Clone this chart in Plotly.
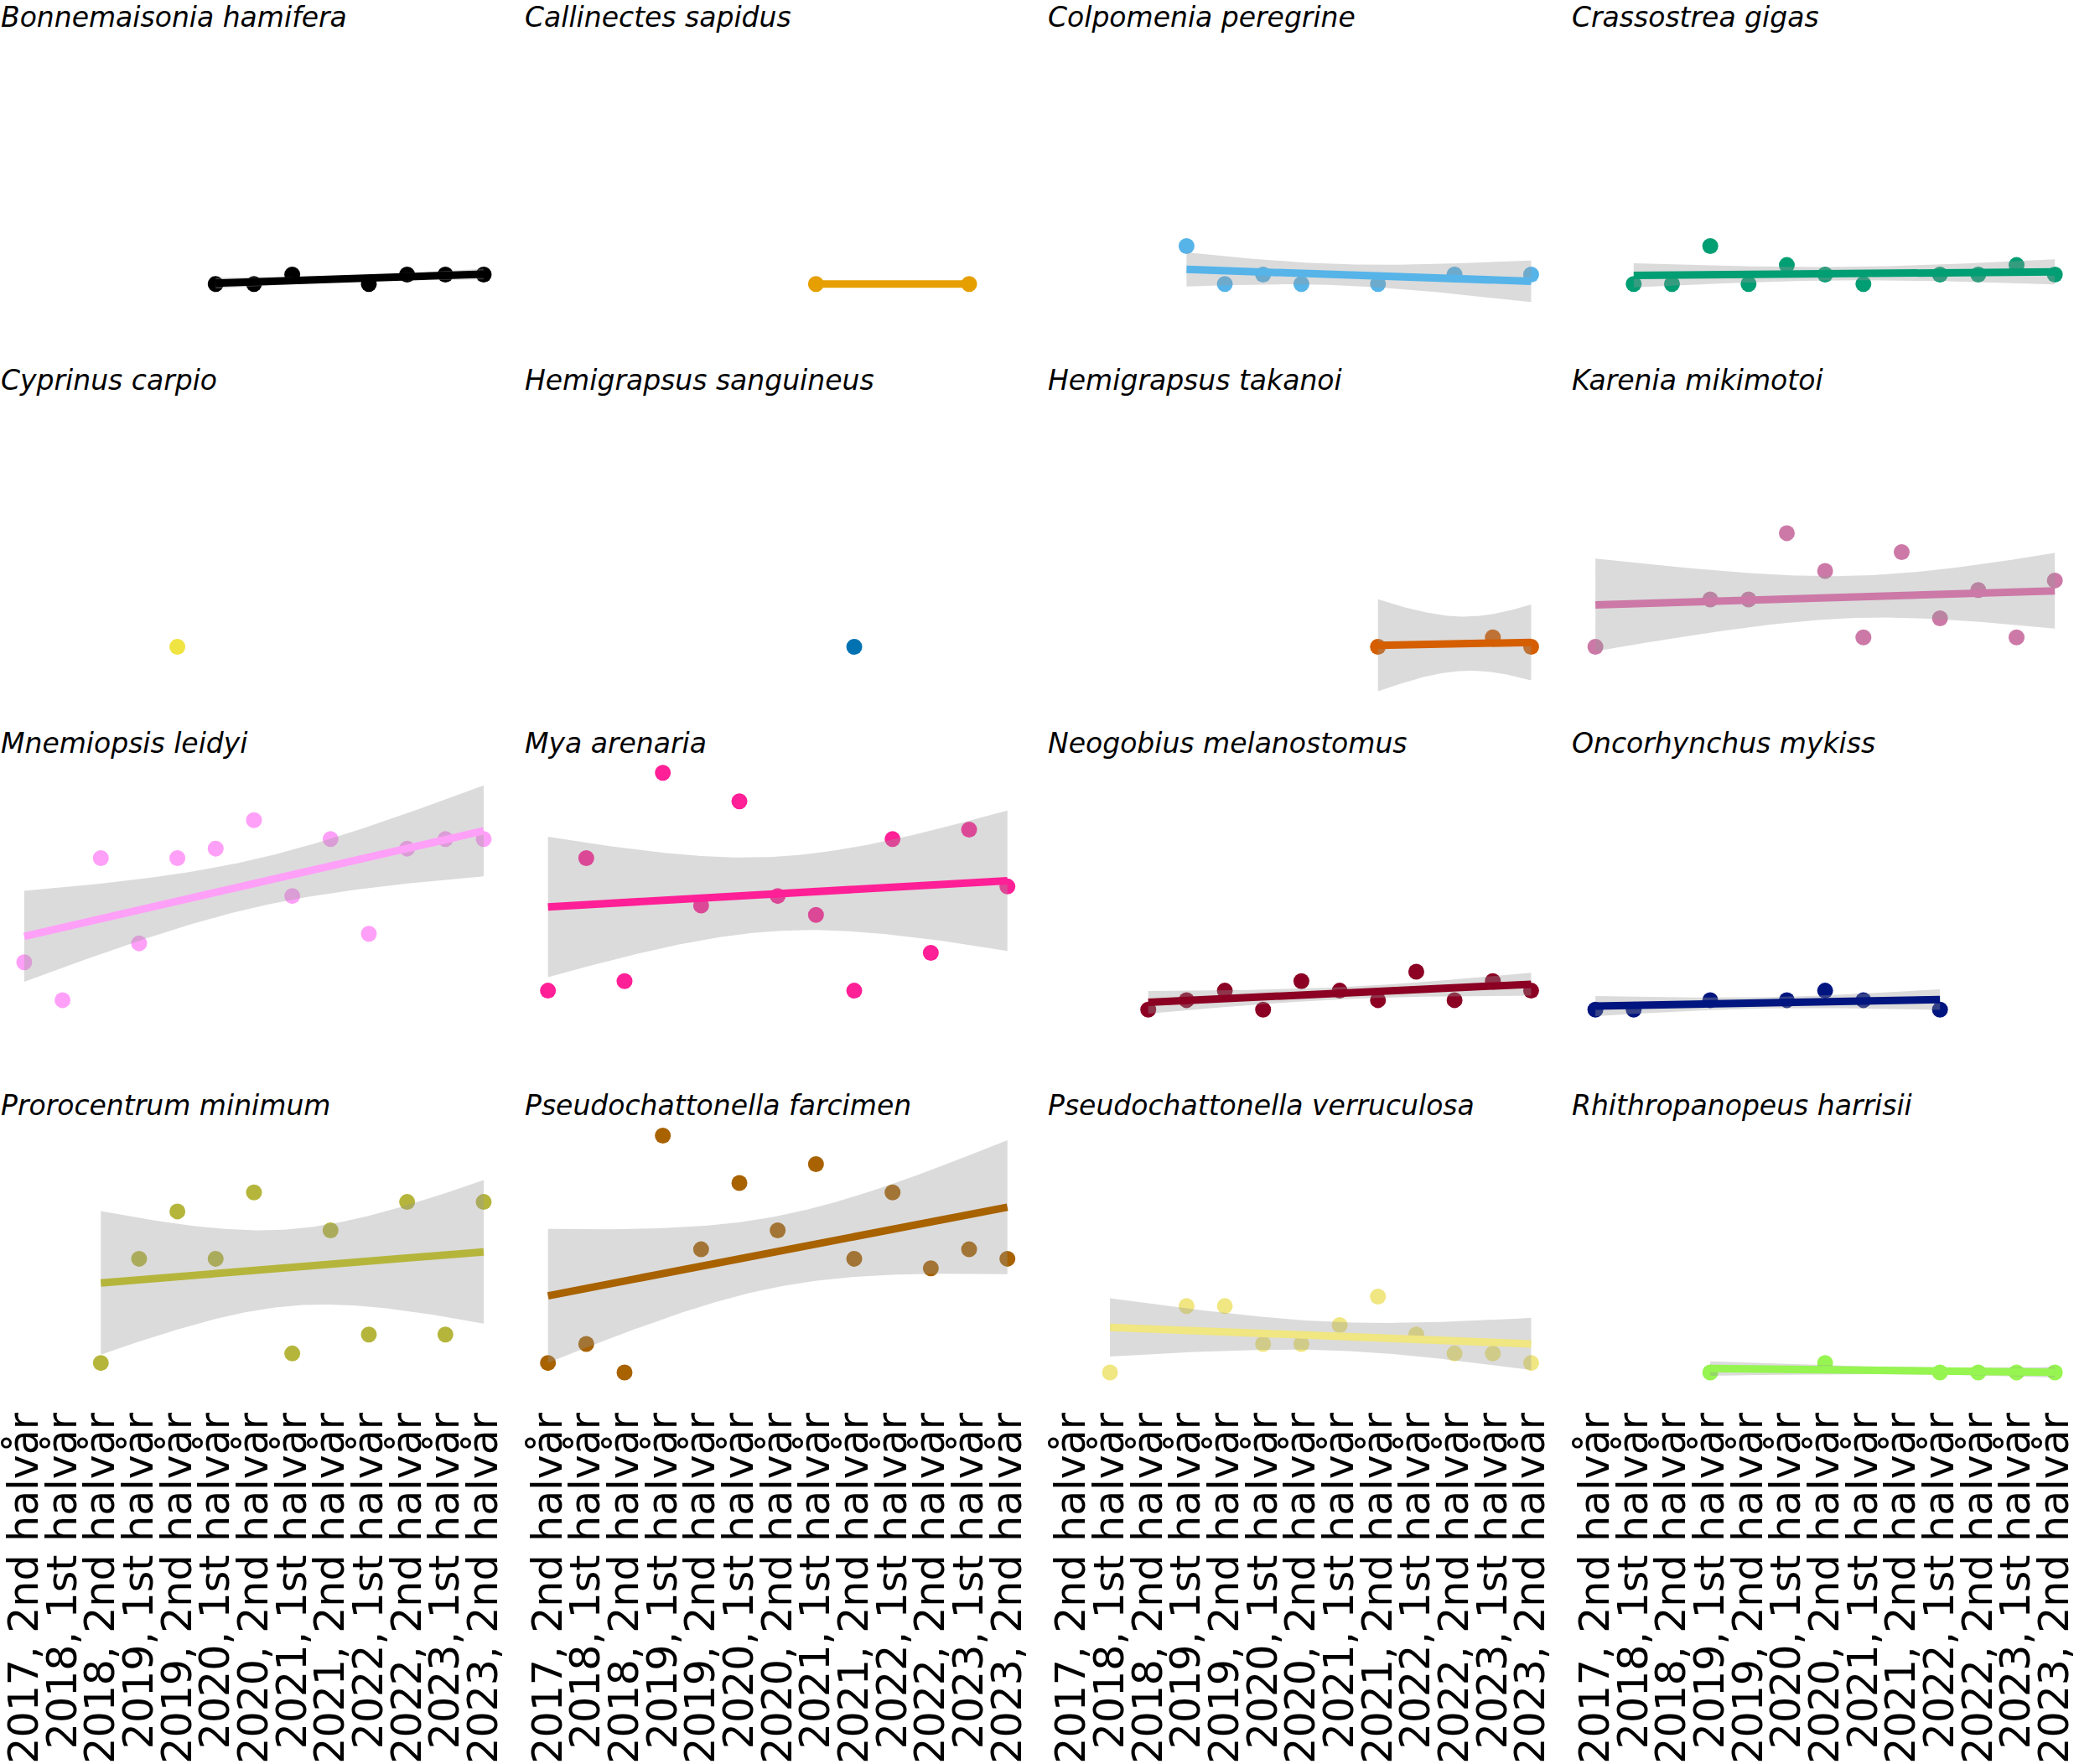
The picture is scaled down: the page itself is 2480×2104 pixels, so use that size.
import numpy as np
import plotly.graph_objects as go

# ---------------- data ----------------
categories = [
    "2017, 2nd halvår", "2018, 1st halvår", "2018, 2nd halvår", "2019, 1st halvår",
    "2019, 2nd halvår", "2020, 1st halvår", "2020, 2nd halvår", "2021, 1st halvår",
    "2021, 2nd halvår", "2022, 1st halvår", "2022, 2nd halvår", "2023, 1st halvår",
    "2023, 2nd halvår",
]

species = [
    "Bonnemaisonia hamifera", "Callinectes sapidus", "Colpomenia peregrine", "Crassostrea gigas",
    "Cyprinus carpio", "Hemigrapsus sanguineus", "Hemigrapsus takanoi", "Karenia mikimotoi",
    "Mnemiopsis leidyi", "Mya arenaria", "Neogobius melanostomus", "Oncorhynchus mykiss",
    "Prorocentrum minimum", "Pseudochattonella farcimen", "Pseudochattonella verruculosa",
    "Rhithropanopeus harrisii",
]

colors = [
    "#000000", "#E69F00", "#56B4E9", "#009E73",
    "#F0E442", "#0072B2", "#D55E00", "#CC79A7",
    "#FFA0F8", "#FF1F96", "#8B0023", "#00157F",
    "#B5B53C", "#A86200", "#F0E682", "#96F550",
]

# period positions are indices into `categories`
bonnemaisonia_t = [5, 6, 7, 9, 10, 11, 12]
bonnemaisonia_v = [1, 1, 2, 1, 2, 2, 2]
callinectes_t = [7, 11]
callinectes_v = [1, 1]
colpomenia_t = [3, 4, 5, 6, 8, 10, 12]
colpomenia_v = [5, 1, 2, 1, 1, 2, 2]
crassostrea_t = [1, 2, 3, 4, 5, 6, 7, 9, 10, 11, 12]
crassostrea_v = [1, 1, 5, 1, 3, 2, 1, 2, 2, 3, 2]
cyprinus_t = [4]
cyprinus_v = [1]
hemigrapsus_s_t = [8]
hemigrapsus_s_v = [1]
hemigrapsus_t_t = [8, 11, 12]
hemigrapsus_t_v = [1, 2, 1]
karenia_t = [0, 3, 4, 5, 6, 7, 8, 9, 10, 11, 12]
karenia_v = [1, 6, 6, 13, 9, 2, 11, 4, 7, 2, 8]
mnemiopsis_t = [0, 1, 2, 3, 4, 5, 6, 7, 8, 9, 10, 11, 12]
mnemiopsis_v = [6, 2, 17, 8, 17, 18, 21, 13, 19, 9, 18, 19, 19]
mya_t = [0, 1, 2, 3, 4, 5, 6, 7, 8, 9, 10, 11, 12]
mya_v = [3, 17, 4, 26, 12, 23, 13, 11, 3, 19, 7, 20, 14]
neogobius_t = [2, 3, 4, 5, 6, 7, 8, 9, 10, 11, 12]
neogobius_v = [1, 2, 3, 1, 4, 3, 2, 5, 2, 4, 3]
oncorhynchus_t = [0, 1, 3, 5, 6, 7, 9]
oncorhynchus_v = [1, 1, 2, 2, 3, 2, 1]
prorocentrum_t = [2, 3, 4, 5, 6, 7, 8, 9, 10, 11, 12]
prorocentrum_v = [2, 13, 18, 13, 20, 3, 16, 5, 19, 5, 19]
farcimen_t = [0, 1, 2, 3, 4, 5, 6, 7, 8, 9, 10, 11, 12]
farcimen_v = [2, 4, 1, 26, 14, 21, 16, 23, 13, 20, 12, 14, 13]
verruculosa_t = [1, 3, 4, 5, 6, 7, 8, 9, 10, 11, 12]
verruculosa_v = [1, 8, 8, 4, 4, 6, 9, 5, 3, 3, 2]
rhithropanopeus_t = [3, 6, 9, 10, 11, 12]
rhithropanopeus_v = [1, 2, 1, 1, 1, 1]

series_t = [bonnemaisonia_t, callinectes_t, colpomenia_t, crassostrea_t,
            cyprinus_t, hemigrapsus_s_t, hemigrapsus_t_t, karenia_t,
            mnemiopsis_t, mya_t, neogobius_t, oncorhynchus_t,
            prorocentrum_t, farcimen_t, verruculosa_t, rhithropanopeus_t]
series_v = [bonnemaisonia_v, callinectes_v, colpomenia_v, crassostrea_v,
            cyprinus_v, hemigrapsus_s_v, hemigrapsus_t_v, karenia_v,
            mnemiopsis_v, mya_v, neogobius_v, oncorhynchus_v,
            prorocentrum_v, farcimen_v, verruculosa_v, rhithropanopeus_v]

# one-sided 95% t quantiles (90% two-sided band) by degrees of freedom
T_Q = {1: 6.3138, 2: 2.9200, 3: 2.3534, 4: 2.1318, 5: 2.0150, 6: 1.9432,
       7: 1.8946, 8: 1.8595, 9: 1.8331, 10: 1.8125, 11: 1.7959, 12: 1.7823}

# ---------------- layout geometry (pixels) ----------------
W, H = 2480, 2104
step = 45.8          # px per category
unit = 11.34         # px per count
col_pitch = 626.5
row_pitch = 434.4
x0_px = 25.0         # pixel of first category in column 0
base_px = 340.0      # pixel of value 1 in row 0
pad_x = 0.55         # category padding either side
y_hi = 27.5
y_lo_rows = [-5.0, -5.0, -5.0, -2.3]   # bottom row kept tight above tick labels

BAND = "rgba(153,153,153,0.35)"

fig = go.Figure()
layout = dict(
    width=W, height=H,
    margin=dict(l=0, r=0, t=0, b=0),
    paper_bgcolor="white", plot_bgcolor="white",
    showlegend=False,
    font=dict(family="DejaVu Sans", color="black"),
)
annotations = []

for k, name in enumerate(species):
    r, c = divmod(k, 4)
    n = k + 1
    xa_key = "xaxis" if n == 1 else f"xaxis{n}"
    ya_key = "yaxis" if n == 1 else f"yaxis{n}"
    xref = "x" if n == 1 else f"x{n}"
    yref = "y" if n == 1 else f"y{n}"

    idx0 = x0_px + c * col_pitch
    left = max(0.0, idx0 - pad_x * step)
    right = min(float(W), idx0 + (len(categories) - 1 + pad_x) * step)
    base = base_px + r * row_pitch
    y_lo = y_lo_rows[r]
    top = base - (y_hi - 1) * unit
    bottom = base - (y_lo - 1) * unit

    layout[xa_key] = dict(
        domain=[left / W, right / W],
        range=[(left - idx0) / step, (right - idx0) / step], anchor=yref,
        tickmode="array", tickvals=list(range(len(categories))), ticktext=categories,
        showticklabels=(r == 3), tickangle=-90, ticklabeloverflow="allow",
        tickfont=dict(family="DejaVu Sans", size=49, color="black"),
        showgrid=False, zeroline=False, showline=False, ticks="",
    )
    layout[ya_key] = dict(
        domain=[1 - bottom / H, 1 - top / H], range=[y_lo, y_hi],
        anchor=xref, visible=False,
    )

    x = np.array(series_t[k], dtype=float)
    y = np.array(series_v[k], dtype=float)
    col = colors[k]

    # points
    fig.add_trace(go.Scatter(
        x=x, y=y, mode="markers", xaxis=xref, yaxis=yref,
        marker=dict(size=19, color=col, line=dict(width=0)),
        hoverinfo="skip",
    ))

    # linear fit + confidence band
    if len(x) >= 2:
        mx, my = x.mean(), y.mean()
        sxx = ((x - mx) ** 2).sum()
        slope = ((x - mx) * (y - my)).sum() / sxx
        icpt = my - slope * mx
        g = np.linspace(x.min(), x.max(), 100)
        yhat = icpt + slope * g
        if len(x) >= 3:
            resid = y - (icpt + slope * x)
            s = np.sqrt((resid ** 2).sum() / (len(x) - 2))
            se = s * np.sqrt(1.0 / len(x) + (g - mx) ** 2 / sxx)
            half = T_Q[len(x) - 2] * se
            fig.add_trace(go.Scatter(
                x=np.concatenate([g, g[::-1]]),
                y=np.concatenate([yhat + half, (yhat - half)[::-1]]),
                mode="lines", fill="toself", fillcolor=BAND,
                line=dict(width=0, color=BAND),
                xaxis=xref, yaxis=yref, hoverinfo="skip",
            ))
        fig.add_trace(go.Scatter(
            x=g, y=yhat, mode="lines", xaxis=xref, yaxis=yref,
            line=dict(color=col, width=9), hoverinfo="skip",
        ))

    annotations.append(dict(
        text=f"<i>{name}</i>", xref="paper", yref="paper",
        x=(c * col_pitch - 5) / W, y=1 - (20.6 + r * row_pitch) / H,
        xanchor="left", yanchor="middle", showarrow=False,
        font=dict(family="DejaVu Sans", size=33, color="black"),
    ))

layout["annotations"] = annotations
fig.update_layout(**layout)
fig.write_html(
    "out.html",
    config={"displayModeBar": False},
    post_script="document.body.style.margin='0px';document.body.style.padding='0px';",
)
